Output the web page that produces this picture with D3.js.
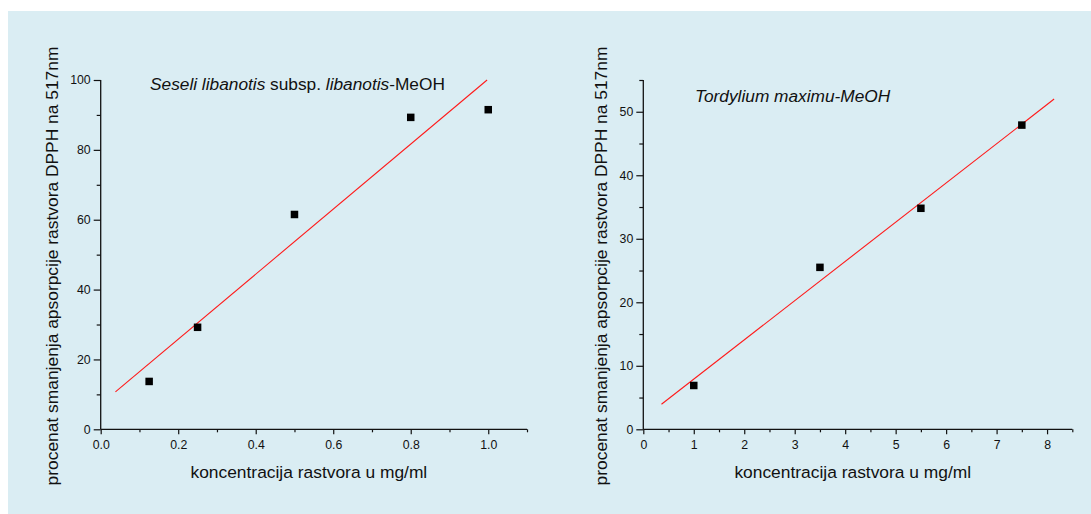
<!DOCTYPE html>
<html>
<head>
<meta charset="utf-8">
<script src="https://cdn.jsdelivr.net/npm/d3@7"></script>
<style>
  html, body { margin: 0; padding: 0; background: #ffffff; }
  svg { display: block; }
  text { font-family: "Liberation Sans", Arial, Helvetica, sans-serif; fill: #111; }
</style>
</head>
<body>
<svg id="chart" width="1091" height="514"></svg>
<script>
// Seseli libanotis subsp. libanotis – MeOH extract
const leftConc = [0.125, 0.25, 0.5, 0.8, 1.0];
const leftInhib = [13.7, 29.2, 61.5, 89.3, 91.5];
const leftFitConc = [0.038, 0.997];
const leftFitInhib = [10.7, 100];
const leftXTicks = [0, 0.2, 0.4, 0.6, 0.8, 1.0];
const leftXMinor = [0.1, 0.3, 0.5, 0.7, 0.9, 1.1];
const leftYTicks = [0, 20, 40, 60, 80, 100];
const leftYMinor = [10, 30, 50, 70, 90];

// Tordylium maximum – MeOH extract
const rightConc = [1, 3.5, 5.5, 7.5];
const rightInhib = [6.9, 25.5, 34.8, 47.9];
const rightFitConc = [0.36, 8.14];
const rightFitInhib = [3.95, 52.0];
const rightXTicks = [0, 1, 2, 3, 4, 5, 6, 7, 8];
const rightXMinor = [0.5, 1.5, 2.5, 3.5, 4.5, 5.5, 6.5, 7.5, 8.5];
const rightYTicks = [0, 10, 20, 30, 40, 50];
const rightYMinor = [5, 15, 25, 35, 45, 55];

const xTitle = "koncentracija rastvora u mg/ml";
const yTitle = "procenat smanjenja apsorpcije rastvora DPPH na 517nm";

const svg = d3.select("#chart");

// light blue panel behind both plots
svg.append("rect")
  .attr("x", 8).attr("y", 11)
  .attr("width", 1083).attr("height", 503)
  .attr("fill", "#daedf3");

function drawPlot(cfg) {
  const x = d3.scaleLinear().domain(cfg.xDomain).range([cfg.left, cfg.right]);
  const y = d3.scaleLinear().domain(cfg.yDomain).range([cfg.bottom, cfg.top]);
  const g = svg.append("g");

  // minor ticks first, then major ticks with labels
  g.append("g")
    .attr("transform", `translate(0,${cfg.bottom})`)
    .call(d3.axisBottom(x).tickValues(cfg.xMinor).tickSize(3).tickFormat(""));
  g.append("g")
    .attr("transform", `translate(${cfg.left},0)`)
    .call(d3.axisLeft(y).tickValues(cfg.yMinor).tickSize(4).tickFormat(""));

  g.append("g")
    .attr("transform", `translate(0,${cfg.bottom})`)
    .call(d3.axisBottom(x).tickValues(cfg.xTicks).tickSize(5).tickPadding(6)
      .tickFormat(cfg.xFormat));
  g.append("g")
    .attr("transform", `translate(${cfg.left},0)`)
    .call(d3.axisLeft(y).tickValues(cfg.yTicks).tickSize(7).tickPadding(3)
      .tickFormat(d3.format("d")));

  // plain axis lines without end caps
  g.selectAll(".domain").remove();
  g.append("line")
    .attr("x1", cfg.left).attr("x2", cfg.left)
    .attr("y1", cfg.top).attr("y2", cfg.bottom)
    .attr("stroke", "#111").attr("stroke-width", 1.3);
  g.append("line")
    .attr("x1", cfg.left).attr("x2", cfg.right)
    .attr("y1", cfg.bottom).attr("y2", cfg.bottom)
    .attr("stroke", "#111").attr("stroke-width", 1.3);

  g.selectAll(".tick line").attr("stroke", "#111").attr("stroke-width", 1.2);
  g.selectAll(".tick text")
    .attr("font-size", 12.3)
    .attr("font-family", '"Liberation Sans", Arial, sans-serif')
    .attr("fill", "#222");

  // fitted regression line
  g.append("line")
    .attr("x1", x(cfg.fitX[0])).attr("y1", y(cfg.fitY[0]))
    .attr("x2", x(cfg.fitX[1])).attr("y2", y(cfg.fitY[1]))
    .attr("stroke", "#ff1a1a").attr("stroke-width", 1.1);

  // measured points
  const s = 7.5;
  g.selectAll("rect.pt")
    .data(cfg.xs.map((v, i) => [v, cfg.ys[i]]))
    .join("rect")
    .attr("class", "pt")
    .attr("x", d => x(d[0]) - s / 2)
    .attr("y", d => y(d[1]) - s / 2)
    .attr("width", s).attr("height", s)
    .attr("fill", "#000");

  // axis titles
  g.append("text")
    .attr("x", (cfg.left + x(cfg.xDomain[1])) / 2 - 5)
    .attr("y", 478)
    .attr("text-anchor", "middle")
    .attr("font-size", 17.4)
    .text(xTitle);
  g.append("text")
    .attr("transform", `translate(${cfg.yTitleX},266) rotate(-90)`)
    .attr("text-anchor", "middle")
    .attr("font-size", 17.4)
    .text(yTitle);

  // species label
  const t = g.append("text")
    .attr("x", cfg.labelX).attr("y", cfg.labelY)
    .attr("font-size", 17.3);
  cfg.label.forEach(([str, italic]) => {
    t.append("tspan").attr("font-style", italic ? "italic" : "normal").text(str);
  });
}

drawPlot({
  left: 100.7, right: 527, top: 80, bottom: 429.3,
  xDomain: [0, 1.1], yDomain: [0, 100],
  xTicks: leftXTicks, xMinor: leftXMinor, yTicks: leftYTicks, yMinor: leftYMinor,
  xFormat: d3.format(".1f"),
  xs: leftConc, ys: leftInhib, fitX: leftFitConc, fitY: leftFitInhib,
  yTitleX: 57.5,
  labelX: 150, labelY: 90,
  label: [["Seseli libanotis", true], [" subsp. ", false], ["libanotis", true], ["-MeOH", false]]
});

drawPlot({
  left: 643.3, right: 1072.3, top: 80, bottom: 429.3,
  xDomain: [0, 8.5], yDomain: [0, 55],
  xTicks: rightXTicks, xMinor: rightXMinor, yTicks: rightYTicks, yMinor: rightYMinor,
  xFormat: d3.format("d"),
  xs: rightConc, ys: rightInhib, fitX: rightFitConc, fitY: rightFitInhib,
  yTitleX: 607,
  labelX: 695, labelY: 102,
  label: [["Tordylium maximu-MeOH", true]]
});
</script>
</body>
</html>
